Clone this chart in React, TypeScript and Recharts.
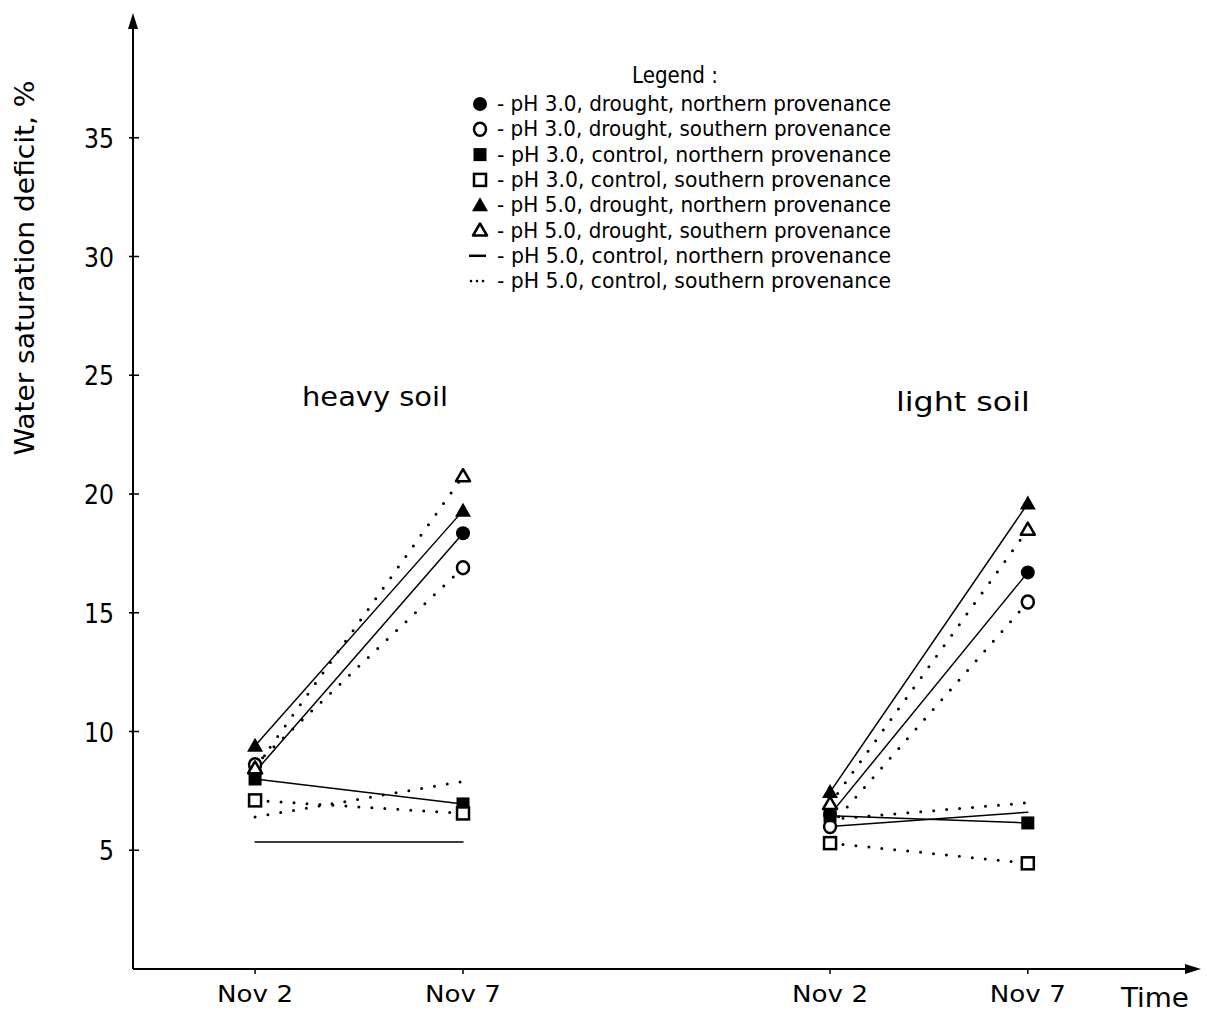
import { LineChart, Line, XAxis, YAxis, ReferenceDot } from "recharts";

// x slots: heavy soil Nov 2 / Nov 7, light soil Nov 2 / Nov 7
const positions = [1, 2, 3.765, 4.716];
const tickLabels = ["Nov 2", "Nov 7", "Nov 2", "Nov 7"];
const yTicks = [5, 10, 15, 20, 25, 30, 35];

const ph3DroughtN = [8.3, 18.35, 6.5, 16.7];
const ph3DroughtS = [8.6, 16.9, 6.0, 15.45];
const ph3ControlN = [8.0, 6.95, 6.45, 6.15];
const ph3ControlS = [7.1, 6.55, 5.3, 4.45];
const ph5DroughtN = [9.4, 19.3, 7.45, 19.6];
const ph5DroughtS = [8.45, 20.75, 6.95, 18.5];
const ph5ControlN = [5.35, 5.35, 6.0, 6.6];
const ph5ControlS = [6.4, 7.9, 6.3, 7.0];

const seriesNames = [
  "pH 3.0, drought, northern provenance",
  "pH 3.0, drought, southern provenance",
  "pH 3.0, control, northern provenance",
  "pH 3.0, control, southern provenance",
  "pH 5.0, drought, northern provenance",
  "pH 5.0, drought, southern provenance",
  "pH 5.0, control, northern provenance",
  "pH 5.0, control, southern provenance",
];

type MarkerKind = "fc" | "oc" | "fs" | "os" | "ft" | "ot" | "line" | "dots";

const series: { key: string; values: number[]; marker: MarkerKind; dotted: boolean }[] = [
  { key: "ph3DroughtN", values: ph3DroughtN, marker: "fc", dotted: false },
  { key: "ph3DroughtS", values: ph3DroughtS, marker: "oc", dotted: true },
  { key: "ph3ControlN", values: ph3ControlN, marker: "fs", dotted: false },
  { key: "ph3ControlS", values: ph3ControlS, marker: "os", dotted: true },
  { key: "ph5DroughtN", values: ph5DroughtN, marker: "ft", dotted: false },
  { key: "ph5DroughtS", values: ph5DroughtS, marker: "ot", dotted: true },
  { key: "ph5ControlN", values: ph5ControlN, marker: "line", dotted: false },
  { key: "ph5ControlS", values: ph5ControlS, marker: "dots", dotted: true },
];

// rows per x slot, with an empty row between the two soils to break the lines
const rows: Record<string, number | null>[] = [];
positions.forEach((x, i) => {
  if (i === 2) {
    const gap: Record<string, number | null> = { x: 3 };
    series.forEach((s) => (gap[s.key] = null));
    rows.push(gap);
  }
  const r: Record<string, number | null> = { x };
  series.forEach((s) => (r[s.key] = s.values[i]));
  rows.push(r);
});

const FONT = "'Liberation Sans Narrow', 'DejaVu Sans Condensed', 'DejaVu Sans', sans-serif";

function Marker({ kind, cx, cy }: { kind: MarkerKind; cx: number; cy: number }) {
  switch (kind) {
    case "fc":
      return <circle cx={cx} cy={cy} r={7} fill="#000" />;
    case "oc":
      return <ellipse cx={cx} cy={cy} rx={6} ry={6.5} fill="#fff" stroke="#000" strokeWidth={2.5} />;
    case "fs":
      return <rect x={cx - 6.5} y={cy - 6.5} width={13} height={13} fill="#000" />;
    case "os":
      return <rect x={cx - 6} y={cy - 6} width={12} height={12} fill="#fff" stroke="#000" strokeWidth={2.5} />;
    case "ft":
      return <path d={`M${cx},${cy - 8} L${cx + 8},${cy + 6} L${cx - 8},${cy + 6} Z`} fill="#000" />;
    case "ot":
      return (
        <path
          d={`M${cx},${cy - 7} L${cx + 7},${cy + 5} L${cx - 7},${cy + 5} Z`}
          fill="#fff"
          stroke="#000"
          strokeWidth={2.5}
          strokeLinejoin="round"
        />
      );
    case "line":
      return <line x1={cx - 11} y1={cy} x2={cx + 6} y2={cy} stroke="#000" strokeWidth={2.5} />;
    case "dots":
      return (
        <g fill="#000">
          <circle cx={cx - 9} cy={cy} r={1.3} />
          <circle cx={cx - 3} cy={cy} r={1.3} />
          <circle cx={cx + 3} cy={cy} r={1.3} />
        </g>
      );
  }
  return null;
}

function makeDot(kind: MarkerKind) {
  return (props: any) => {
    const { cx, cy, index, value } = props;
    if (value == null || cx == null || cy == null) return <g key={`d-${index}`} />;
    return (
      <g key={`d-${index}`}>
        <Marker kind={kind} cx={cx} cy={cy} />
      </g>
    );
  };
}

function YTick(props: any) {
  const { x, y, payload } = props;
  const w = String(payload.value).length * 15;
  return (
    <g>
      <line x1={x + 4} y1={y} x2={x + 12} y2={y} stroke="#000" strokeWidth={1.5} />
      <text
        x={x - 13}
        y={y}
        dy={10}
        textAnchor="end"
        fontFamily="'DejaVu Sans', sans-serif"
        fontSize={26}
        fill="#000"
        textLength={w}
        lengthAdjust="spacingAndGlyphs"
      >
        {payload.value}
      </text>
    </g>
  );
}

function XTick(props: any) {
  const { x, y, payload } = props;
  const label = tickLabels[positions.indexOf(payload.value)];
  return (
    <text
      x={x}
      y={y}
      dy={26}
      textAnchor="middle"
      fontFamily="'DejaVu Sans', sans-serif"
      fontSize={23}
      fill="#000"
      textLength={76}
      lengthAdjust="spacingAndGlyphs"
    >
      {label}
    </text>
  );
}

const xDomain: [number, number] = [0.413, 5.52];
const yDomain: [number, number] = [0, 40];

export default function App() {
  return (
    <div style={{ position: "absolute", left: 0, top: 0, width: 1207, height: 1015, background: "#fff" }}>
      <LineChart width={1207} height={1015} data={rows} margin={{ top: 19, right: 12, bottom: 0, left: 0 }}>
        <XAxis
          type="number"
          dataKey="x"
          domain={xDomain}
          allowDataOverflow
          ticks={positions}
          tick={<XTick />}
          tickSize={5}
          tickLine={{ stroke: "#000", strokeWidth: 1.5 }}
          axisLine={{ stroke: "#000", strokeWidth: 2 }}
          height={46}
        />
        <YAxis
          type="number"
          domain={yDomain}
          ticks={yTicks}
          tick={<YTick />}
          tickSize={4}
          tickLine={{ stroke: "#000", strokeWidth: 1.5 }}
          axisLine={{ stroke: "#000", strokeWidth: 2 }}
          width={133}
        />
        {series.map((s) => (
          <Line
            key={s.key}
            dataKey={s.key}
            type="linear"
            stroke="#000"
            strokeWidth={s.dotted ? 3 : 1.5}
            strokeDasharray={s.dotted ? "0 13" : undefined}
            strokeLinecap="round"
            dot={s.marker === "line" || s.marker === "dots" ? false : makeDot(s.marker)}
            activeDot={false}
            connectNulls={false}
            isAnimationActive={false}
          />
        ))}
        <ReferenceDot
          x={1.577}
          y={24.07}
          ifOverflow="visible"
          shape={(p: any) => (
            <text
              x={p.cx}
              y={p.cy}
              dy={9}
              textAnchor="middle"
              fontFamily={FONT}
              fontSize={27}
              fill="#000"
              textLength={146}
              lengthAdjust="spacingAndGlyphs"
            >
              heavy soil
            </text>
          )}
        />
        <ReferenceDot
          x={4.404}
          y={23.86}
          ifOverflow="visible"
          shape={(p: any) => (
            <text
              x={p.cx}
              y={p.cy}
              dy={9}
              textAnchor="middle"
              fontFamily={FONT}
              fontSize={27}
              fill="#000"
              textLength={134}
              lengthAdjust="spacingAndGlyphs"
            >
              light soil
            </text>
          )}
        />
        <ReferenceDot
          x={xDomain[1]}
          y={0}
          ifOverflow="visible"
          shape={(p: any) => <path d={`M${p.cx + 6},${p.cy} L${p.cx - 10},${p.cy - 5} L${p.cx - 10},${p.cy + 5} Z`} fill="#000" />}
        />
        <ReferenceDot
          x={xDomain[0]}
          y={yDomain[1]}
          ifOverflow="visible"
          shape={(p: any) => <path d={`M${p.cx},${p.cy - 6} L${p.cx - 5},${p.cy + 10} L${p.cx + 5},${p.cy + 10} Z`} fill="#000" />}
        />
      </LineChart>
      <svg width={1207} height={1015} style={{ position: "absolute", left: 0, top: 0, pointerEvents: "none" }}>
        <text
          transform="translate(34,268) rotate(-90)"
          textAnchor="middle"
          fontFamily={FONT}
          fontSize={27}
          fill="#000"
          textLength={375}
          lengthAdjust="spacingAndGlyphs"
        >
          Water saturation deficit, %
        </text>
        <text x={1155} y={1007} textAnchor="middle" fontFamily={FONT} fontSize={26} fill="#000" textLength={68} lengthAdjust="spacingAndGlyphs">
          Time
        </text>
        <text x={675} y={83} textAnchor="middle" fontFamily={FONT} fontSize={23} fill="#000" textLength={86} lengthAdjust="spacingAndGlyphs">
          Legend :
        </text>
        {seriesNames.map((name, i) => {
          const y = 104 + i * 25.3;
          return (
            <g key={name}>
              <Marker kind={series[i].marker} cx={480} cy={y} />
              <text
                x={497}
                y={y + 7}
                fontFamily={FONT}
                fontSize={21}
                fill="#000"
                textLength={394}
                lengthAdjust="spacingAndGlyphs"
              >
                {`- ${name}`}
              </text>
            </g>
          );
        })}
      </svg>
    </div>
  );
}
